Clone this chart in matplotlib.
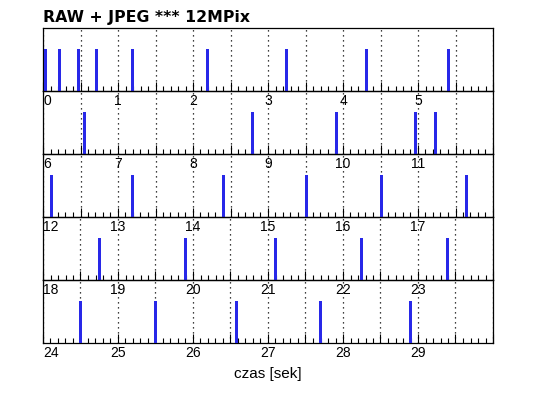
import numpy as np
import matplotlib
matplotlib.use("Agg")
import matplotlib.pyplot as plt

# Event times (seconds)
events = [0.02, 0.21, 0.46, 0.70, 1.19, 2.19, 3.24, 4.30, 5.40,
          6.54, 8.79, 9.90, 10.96, 11.23,
          12.10, 13.19, 14.40, 15.50, 16.50, 17.64,
          18.75, 19.90, 21.10, 22.24, 23.39,
          24.50, 25.50, 26.58, 27.70, 28.90]
n_rows = 5
row_span = 6
title = "RAW + JPEG *** 12MPix"
xlabel = "czas [sek]"

bar_color = "#2828e8"
W, H = 538, 398
fig = plt.figure(figsize=(W / 100, H / 100), dpi=100)

left_px, right_px, top_px, bottom_px = 43, 493, 28, 343
row_h = (bottom_px - top_px) / n_rows

ev = np.array(events)
axes = []
for r in range(n_rows):
    y_top = top_px + r * row_h
    ax = fig.add_axes([left_px / W, 1 - (y_top + row_h) / H,
                       (right_px - left_px) / W, row_h / H])
    ax.patch.set_visible(False)
    start = r * row_span
    end = start + row_span
    sel = ev[(ev >= start) & (ev < end)]
    ax.vlines(sel, 0, 0.66, colors=bar_color, linewidth=1.9, zorder=3,
              antialiased=False, capstyle="butt")
    ax.set_xlim(start, end)
    ax.set_ylim(0, 1)
    ticks = np.arange(start, end + 0.001, 0.5)
    labels = [str(int(t)) if (abs(t - round(t)) < 1e-6 and t < end - 1e-6) else "" for t in ticks]
    ax.set_xticks(ticks)
    ax.set_xticklabels(labels, fontfamily="Liberation Sans", fontsize=10)
    ax.get_xticklabels()[0].set_horizontalalignment("left")
    ax.set_xticks(np.arange(start, end + 0.001, 0.1), minor=True)
    ax.tick_params(axis="x", which="major", direction="in", length=6.5, width=0.8,
                   pad=2.5, colors="black", bottom=True, top=False)
    ax.tick_params(axis="x", which="minor", direction="in", length=3.5, width=0.8,
                   bottom=True, top=False)
    ax.set_yticks([])
    ax.grid(axis="x", which="major", color="black", linestyle=(0, (1, 3)), linewidth=0.9)
    for s in ax.spines.values():
        s.set_linewidth(0.9)
        s.set_color("black")
    axes.append(ax)

axes[0].set_title(title, loc="left", fontsize=11.3, fontweight="bold",
                  fontfamily="DejaVu Sans", pad=4)
axes[-1].set_xlabel(xlabel, fontfamily="Liberation Sans", fontsize=11, labelpad=5)

fig.savefig("out.png", dpi=100, facecolor="white")
